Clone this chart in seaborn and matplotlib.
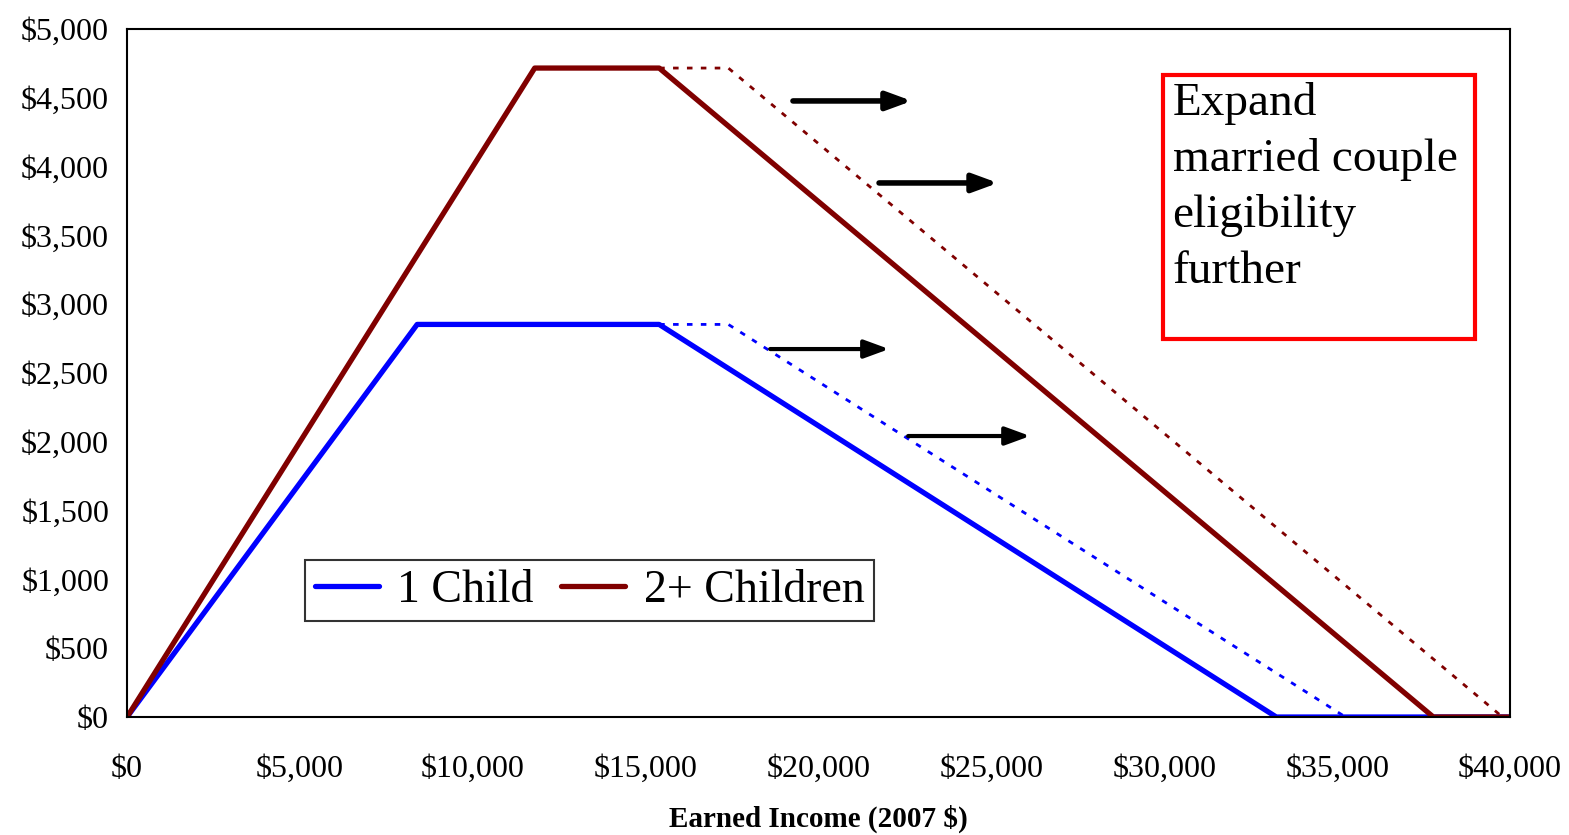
import matplotlib
matplotlib.use('Agg')
import matplotlib.pyplot as plt
import seaborn as sns

# EITC schedule, 2007
one_child_x = [0, 8390, 15390, 33241, 40000]
one_child_y = [0, 2853, 2853, 0, 0]
two_child_x = [0, 11790, 15390, 37783, 40000]
two_child_y = [0, 4716, 4716, 0, 0]

# expanded married couple schedules (dotted)
one_child_exp_x = [15390, 17390, 35241]
one_child_exp_y = [2853, 2853, 0]
two_child_exp_x = [15390, 17390, 39783]
two_child_exp_y = [4716, 4716, 0]

# arrows: (x start, x end, y)
arrows = [(19260, 22700, 4477), (21750, 25190, 3881),
          (18600, 22040, 2674), (22590, 26120, 2042)]

x_ticks = list(range(0, 40001, 5000))
y_ticks = list(range(0, 5001, 500))

sns.set_style('white')
plt.rcParams['font.family'] = ['Liberation Serif', 'DejaVu Serif']
plt.rcParams['text.color'] = 'black'
plt.rcParams['axes.labelcolor'] = 'black'
plt.rcParams['xtick.color'] = 'black'
plt.rcParams['ytick.color'] = 'black'

fig = plt.figure(figsize=(15.69, 8.35), dpi=100)
ax = fig.add_axes([0.081, 0.1413, 0.8814, 0.824])

blue = '#0000ff'
red = '#800000'

sns.lineplot(x=one_child_exp_x, y=one_child_exp_y, color=blue, lw=2, linestyle=(0, (2, 3)), ax=ax, sort=False)
sns.lineplot(x=two_child_exp_x, y=two_child_exp_y, color=red, lw=2, linestyle=(0, (2, 3)), ax=ax, sort=False)
sns.lineplot(x=one_child_x, y=one_child_y, color=blue, lw=3.8, ax=ax, sort=False, label='1 Child')
sns.lineplot(x=two_child_x, y=two_child_y, color=red, lw=3.8, ax=ax, sort=False, label='2+ Children')

for i, (x0, x1, y) in enumerate(arrows):
    w = 4 if i < 2 else 3
    ax.annotate('', xy=(x1, y), xytext=(x0, y),
                arrowprops=dict(arrowstyle='-|>,head_length=1.5,head_width=0.55',
                                color='black', lw=w, shrinkA=0, shrinkB=0))

ax.set_xlim(0, 40000)
ax.set_ylim(0, 5000)
ax.set_xticks(x_ticks)
ax.set_yticks(y_ticks)
ax.set_xticklabels([f'${v:,}' for v in x_ticks], fontsize=23)
ax.set_yticklabels([f'${v:,}' for v in y_ticks], fontsize=23)
ax.tick_params(axis='both', direction='out', length=9, width=1.5, color='black')
ax.tick_params(axis='y', pad=4)
ax.tick_params(axis='x', pad=18)
for s in ax.spines.values():
    s.set_color('black')
    s.set_linewidth(1.5)

ax.set_xlabel('Earned Income (2007 $)', fontsize=21, fontweight='bold', labelpad=15)

ax.legend(loc='lower left', bbox_to_anchor=(0.129, 0.1395), ncol=2, fontsize=33,
          frameon=True, fancybox=False, edgecolor='black', handlelength=1.4,
          handletextpad=0.4, columnspacing=0.6, borderpad=0.2, borderaxespad=0)
ax.get_legend().get_frame().set_linewidth(1.5)

# text box
ax.add_patch(plt.Rectangle((0.749, 0.549), 0.226, 0.384, transform=ax.transAxes,
                           fill=False, edgecolor='red', lw=3))
ax.text(0.756, 0.923, 'Expand\nmarried couple\neligibility\nfurther', transform=ax.transAxes,
        fontsize=34, va='top', ha='left', linespacing=1.4)

fig.savefig('out.png', dpi=100)
